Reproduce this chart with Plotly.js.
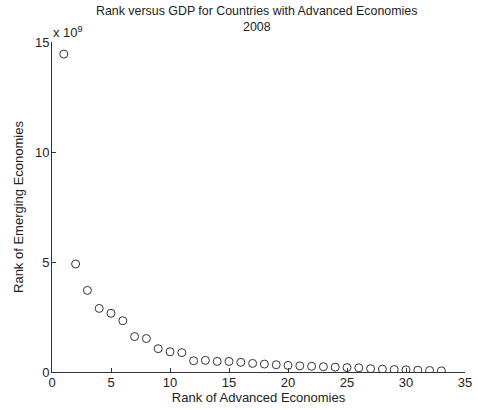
<!DOCTYPE html>
<html>
<head>
<meta charset="utf-8">
<script src="https://cdn.plot.ly/plotly-3.0.1.min.js"></script>
<style>html,body{margin:0;padding:0;background:#fff;}#chart{width:478px;height:410px;}</style>
</head>
<body>
<div id="chart"></div>
<script>
const ranks = [1,2,3,4,5,6,7,8,9,10,11,12,13,14,15,16,17,18,19,20,21,22,23,24,25,26,27,28,29,30,31,32,33];
const gdp = [14.45e9,4.91e9,3.71e9,2.89e9,2.67e9,2.33e9,1.61e9,1.52e9,1.06e9,0.92e9,0.88e9,0.51e9,0.53e9,0.48e9,0.48e9,0.44e9,0.39e9,0.36e9,0.33e9,0.30e9,0.28e9,0.26e9,0.24e9,0.22e9,0.20e9,0.19e9,0.15e9,0.13e9,0.11e9,0.10e9,0.08e9,0.07e9,0.05e9];
const yTickVals = [0,5e9,10e9,15e9];
const yTickText = ['0','5','10','15'];
const titleLines = ['Rank versus GDP for Countries with Advanced Economies', '2008'];

const font = {family:'Liberation Sans, Arial, sans-serif', size:13, color:'#222'};
const titleFont = {...font, size:12.4};
Plotly.newPlot('chart', [{
  x: ranks, y: gdp, type:'scatter', mode:'markers',
  marker:{symbol:'circle-open', size:8, color:'#333', line:{width:1, color:'#333'}}
}], {
  width:478, height:410,
  margin:{l:52, r:13, t:42, b:38},
  paper_bgcolor:'#fff', plot_bgcolor:'#fff',
  font: font,
  showlegend:false,
  xaxis:{range:[0,35], tickvals:[0,5,10,15,20,25,30,35], ticks:'inside', ticklen:4, tickcolor:'#333',
    showline:true, linecolor:'#333', linewidth:1, showgrid:false, zeroline:false, mirror:false, ticklabelstandoff:-2,
    title:{text:'Rank of Advanced Economies', standoff:0, font:font}},
  yaxis:{range:[0,15e9], tickvals:yTickVals, ticktext:yTickText, ticks:'inside', ticklen:4, tickcolor:'#333',
    showline:true, linecolor:'#333', linewidth:1, showgrid:false, zeroline:false, mirror:false, ticklabelstandoff:-1,
    title:{text:'Rank of Emerging Economies', standoff:8, font:font}},
  annotations:[
    {text:titleLines[0], xref:'paper', yref:'paper', x:0.5, y:1, xanchor:'center', yanchor:'middle', yshift:31, xshift:-2, showarrow:false, font:titleFont},
    {text:titleLines[1], xref:'paper', yref:'paper', x:0.5, y:1, xanchor:'center', yanchor:'middle', yshift:15, xshift:-2, showarrow:false, font:titleFont},
    {text:'x 10<sup>9</sup>', xref:'paper', yref:'paper', x:0, y:1, xanchor:'left', yanchor:'bottom', showarrow:false, font:font, xshift:-1}
  ]
}, {displayModeBar:false, staticPlot:true});
</script>
</body>
</html>
